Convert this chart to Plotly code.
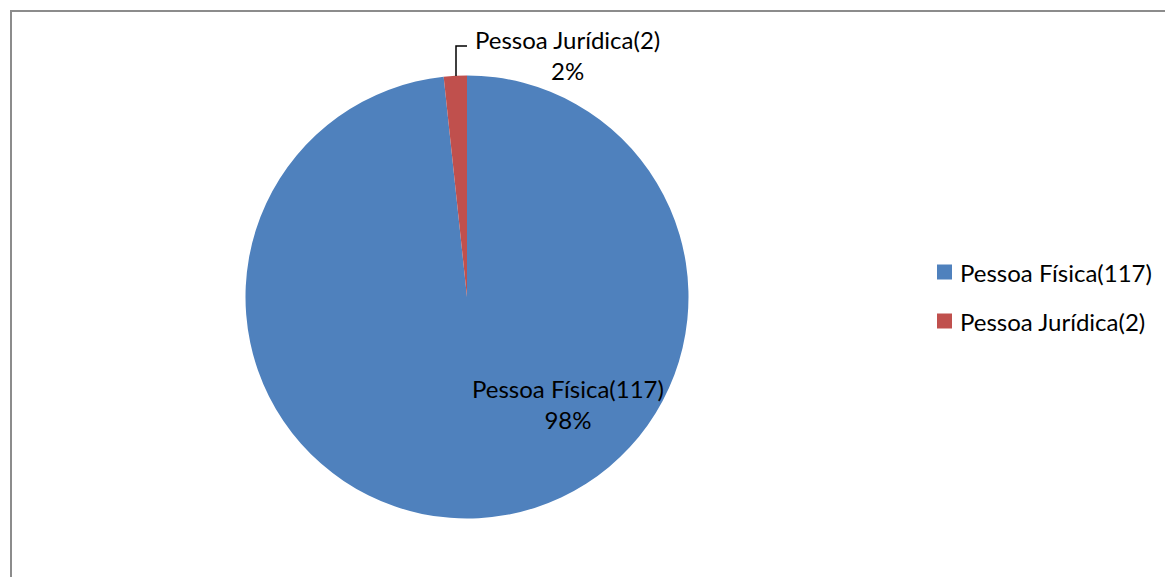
import plotly.graph_objects as go

# ---- data ----
categories = ["Pessoa Física", "Pessoa Jurídica"]
counts = [117, 2]

# ---- style ----
OFF = 8  # default body margin of the page
W, H = 1173 - OFF, 577 - OFF
colors = ["#4F81BD", "#C0504D"]
FONT = "Lato"
FS = 24

def px(x):
    return (x - OFF) / W

def py(y):
    return 1 - (y - OFF) / H

labels = [f"{c}({n})" for c, n in zip(categories, counts)]
total = sum(counts)
pcts = [f"{round(100 * n / total)}%" for n in counts]

cx, cy, r = 467, 297, 221.5

fig = go.Figure()
fig.add_trace(go.Pie(
    labels=labels,
    values=counts,
    sort=False,
    direction="clockwise",
    rotation=0,
    marker=dict(colors=colors, line=dict(width=0)),
    textinfo="none",
    hoverinfo="label+value+percent",
    showlegend=False,
    domain=dict(x=[px(cx - r), px(cx + r)], y=[py(cy + r), py(cy - r)]),
))

annotations = []
shapes = []

# data labels
label_pos = [(568, 404), (567, 55)]
for lab, pct, (lx, ly) in zip(labels, pcts, label_pos):
    annotations.append(dict(
        x=px(lx), y=py(ly), xref="paper", yref="paper",
        text=f"{lab}<br>{pct}", showarrow=False,
        font=dict(family=FONT, size=FS, color="#000000"),
        xanchor="center", yanchor="middle", align="center",
    ))

# leader line for the small slice
shapes.append(dict(
    type="path", xref="paper", yref="paper",
    path=f"M {px(456)},{py(76)} L {px(456)},{py(46)} L {px(467)},{py(46)}",
    line=dict(color="#000000", width=1.5),
))

# legend (custom, to match spacing)
leg_y = [272, 321]
for lab, col, ly in zip(labels, colors, leg_y):
    shapes.append(dict(
        type="rect", xref="paper", yref="paper",
        x0=px(937), x1=px(952), y0=py(ly - 7.5), y1=py(ly + 7.5),
        fillcolor=col, line=dict(width=0),
    ))
    annotations.append(dict(
        x=px(958), y=py(ly), xref="paper", yref="paper",
        text=lab, showarrow=False,
        font=dict(family=FONT, size=FS, color="#000000"),
        xanchor="left", yanchor="middle",
    ))

# chart frame
shapes.append(dict(
    type="rect", xref="paper", yref="paper",
    x0=px(11), x1=px(1173 + 20), y0=py(577 + 20), y1=py(11),
    line=dict(color="#8C8C8C", width=2), fillcolor="rgba(0,0,0,0)",
))

fig.update_layout(
    width=W, height=H,
    margin=dict(l=0, r=0, t=0, b=0),
    paper_bgcolor="#FFFFFF",
    plot_bgcolor="#FFFFFF",
    annotations=annotations,
    shapes=shapes,
    font=dict(family=FONT),
)

fig.write_html("out.html")
